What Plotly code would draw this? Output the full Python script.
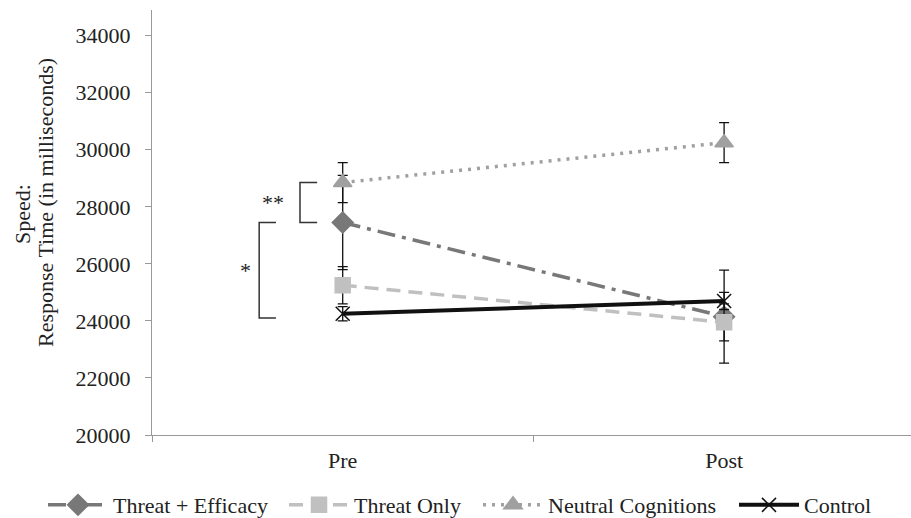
import plotly.graph_objects as go

categories = ["Pre", "Post"]
series_names = ["Threat + Efficacy", "Threat Only", "Neutral Cognitions", "Control"]
threat_efficacy = [27450, 24150]
threat_efficacy_err = [1650, 1630]
threat_only = [25250, 23950]
threat_only_err = [650, 650]
neutral = [28850, 30250]
neutral_err = [700, 700]
control = [24250, 24700]
control_err = [250, 300]
y_ticks = [20000, 22000, 24000, 26000, 28000, 30000, 32000, 34000]

FONT = "'Liberation Serif', 'Times New Roman', Times, serif"

fig = go.Figure()

styles = [
    dict(values=threat_efficacy, err=threat_efficacy_err, color="#787878", dash="18px,7px,4px,7px",
         symbol="diamond", msize=16, mcolor="#787878", width=3.5),
    dict(values=threat_only, err=threat_only_err, color="#c0c0c0", dash="14px,8px",
         symbol="square", msize=15, mcolor="#c0c0c0", width=3.5),
    dict(values=neutral, err=neutral_err, color="#a0a0a0", dash="3px,6px",
         symbol="triangle-up", msize=16, mcolor="#a0a0a0", width=3.5),
    dict(values=control, err=control_err, color="#111111", dash="solid",
         symbol="x-thin-open", msize=14, mcolor="#111111", width=4),
]
legend_ids = ["legend", "legend2", "legend3", "legend4"]
legend_x_px = [43, 284, 478, 734]

for name, s, lid in zip(series_names, styles, legend_ids):
    fig.add_trace(go.Scatter(
        x=categories, y=s["values"], name=name, mode="lines+markers", legend=lid,
        line=dict(color=s["color"], width=s["width"], dash=s["dash"]),
        marker=dict(symbol=s["symbol"], size=s["msize"], color=s["mcolor"],
                    line=dict(color=s["mcolor"], width=1.5)),
        error_y=dict(type="data", array=s["err"], visible=True, color="#111111",
                     thickness=1.3, width=5),
    ))

# significance brackets
def bracket(x0, x1, y0, y1):
    fig.add_shape(type="path",
                  path=f"M {x1} {y0} L {x0} {y0} L {x0} {y1} L {x1} {y1}",
                  xref="x", yref="y", line=dict(color="#333333", width=1.5))

bracket(-0.112, -0.067, neutral[0], threat_efficacy[0])
bracket(-0.219, -0.175, threat_efficacy[0], control[0] - 150)
fig.add_annotation(x=-0.183, y=(neutral[0] + threat_efficacy[0]) / 2, text="**",
                   showarrow=False, xref="x", yref="y",
                   font=dict(family=FONT, size=22, color="#222"))
fig.add_annotation(x=-0.256, y=(threat_efficacy[0] + control[0]) / 2 - 100, text="*",
                   showarrow=False, xref="x", yref="y",
                   font=dict(family=FONT, size=22, color="#222"))

# y-axis title as two rotated lines
fig.add_annotation(text="Speed:", textangle=-90, showarrow=False,
                   xref="paper", yref="paper", x=-(152 - 22) / 759, y=(435 - 214) / 425,
                   xanchor="center", yanchor="middle",
                   font=dict(family=FONT, size=22, color="#222"))
fig.add_annotation(text="Response Time (in milliseconds)", textangle=-90, showarrow=False,
                   xref="paper", yref="paper", x=-(152 - 45) / 759, y=(435 - 203) / 425,
                   xanchor="center", yanchor="middle",
                   font=dict(family=FONT, size=22, color="#222"))

legend_common = dict(orientation="h", xref="container", yref="container", y=0.025,
                     yanchor="middle", xanchor="left", font=dict(family=FONT, size=22),
                     itemwidth=60, bgcolor="rgba(0,0,0,0)")
legend_layout = {lid: dict(legend_common, x=px / 911) for lid, px in zip(legend_ids, legend_x_px)}

fig.update_layout(
    width=911, height=518,
    margin=dict(l=152, r=0, t=10, b=83),
    plot_bgcolor="white", paper_bgcolor="white",
    font=dict(family=FONT, size=22, color="#222222"),
    showlegend=True,
    **legend_layout,
    xaxis=dict(type="category", range=[-0.5, 1.49], showline=True, linecolor="#999999",
               linewidth=1.3, ticks="outside", tickson="boundaries", ticklen=6,
               tickcolor="#999999", showgrid=False, zeroline=False,
               ticklabelstandoff=5,
               tickfont=dict(family=FONT, size=22)),
    yaxis=dict(range=[20000, 34900], tickvals=y_ticks, tickformat="d", showline=True,
               linecolor="#999999", linewidth=1.3, ticks="outside", ticklen=6,
               tickcolor="#999999", showgrid=False, zeroline=False,
               ticklabelstandoff=10,
               tickfont=dict(family=FONT, size=22)),
)

fig.write_html("out.html", config={"displayModeBar": False},
               post_script="document.body.style.margin='0';document.body.style.overflow='hidden';")
